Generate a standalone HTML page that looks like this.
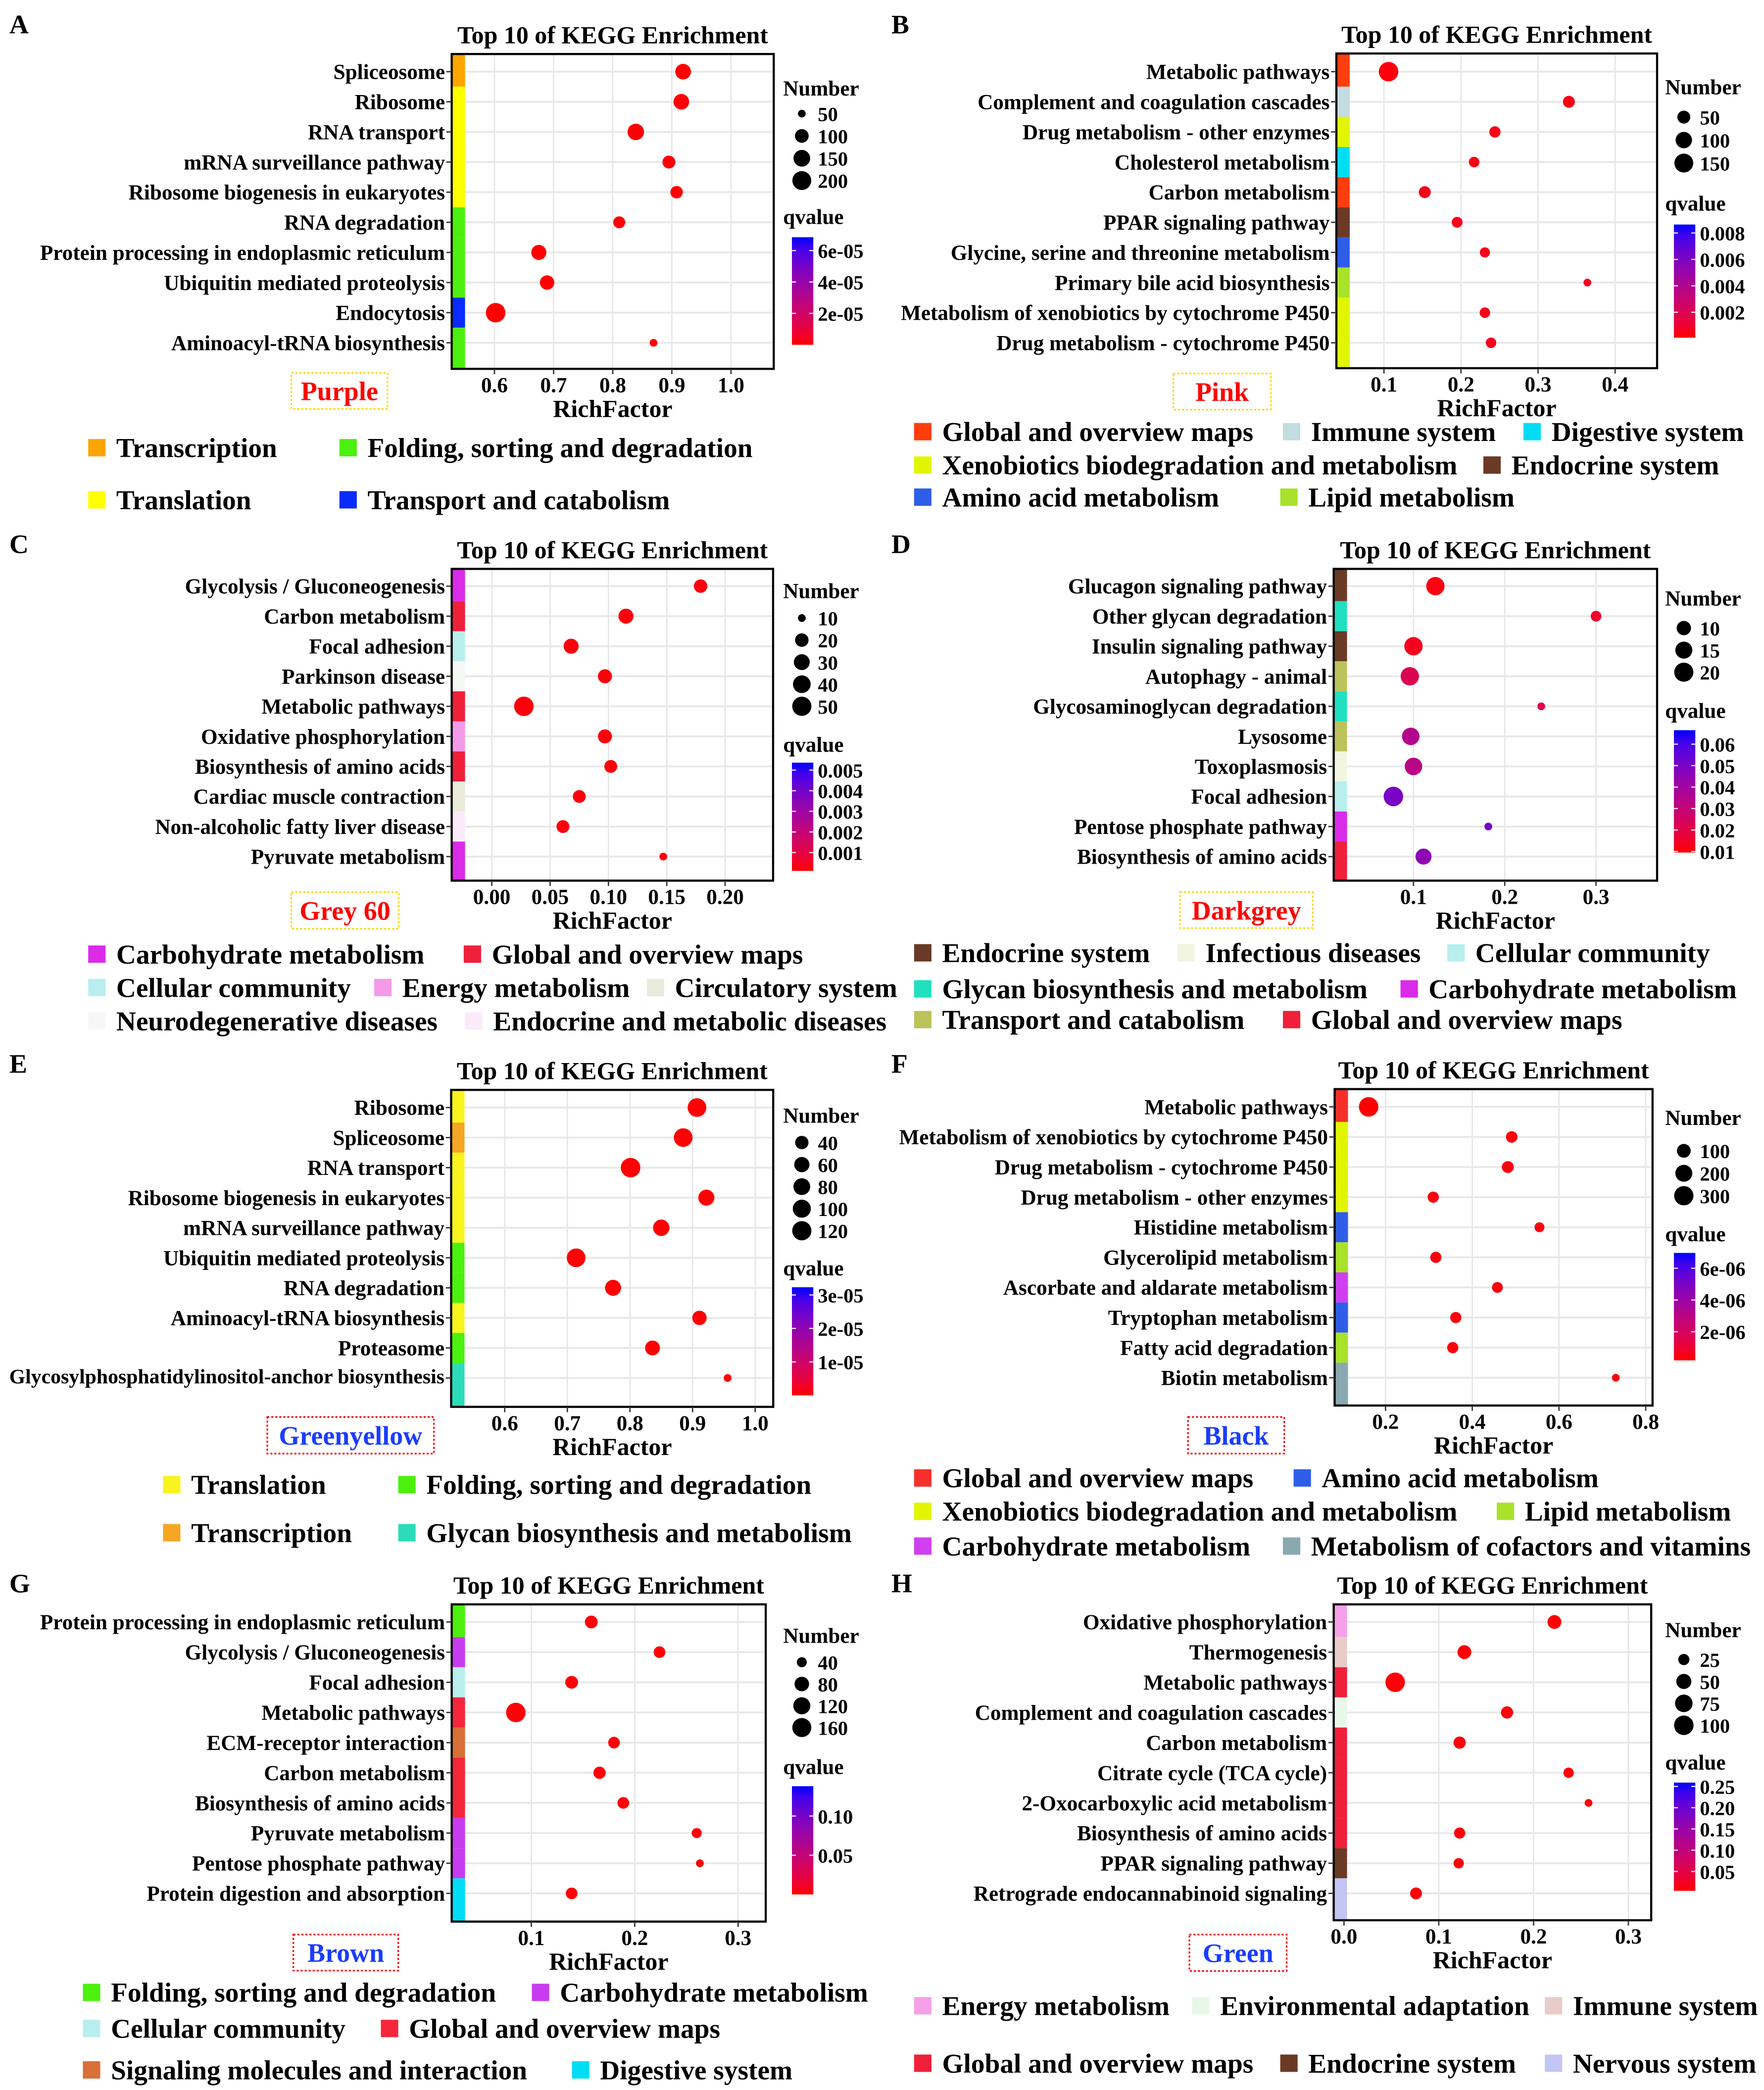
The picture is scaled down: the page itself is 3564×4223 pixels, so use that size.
<!DOCTYPE html>
<html><head><meta charset="utf-8"><style>
html,body{margin:0;padding:0;background:#fff;}
svg{display:block;}
text{font-family:"Liberation Serif",serif;font-weight:bold;fill:#000;}
</style></head><body>
<svg id="fig" xmlns="http://www.w3.org/2000/svg" width="3564" height="4223" viewBox="0 0 1320 1564">
<rect x="0" y="0" width="1320" height="1564" fill="#fff"/>
</svg>
<script>
// ---------- DATA ----------
const aTerms=["Spliceosome","Ribosome","RNA transport","mRNA surveillance pathway","Ribosome biogenesis in eukaryotes","RNA degradation","Protein processing in endoplasmic reticulum","Ubiquitin mediated proteolysis","Endocytosis","Aminoacyl-tRNA biosynthesis"];
const aRich=[0.919,0.916,0.839,0.895,0.908,0.811,0.675,0.689,0.602,0.869];
const aCount=[130,130,145,90,85,80,120,110,215,60];
const aQ=[1e-7,1e-7,1e-7,1e-7,1e-7,1e-7,1e-7,1e-7,1e-7,1e-7];
const aCat=[0,1,1,1,1,2,2,2,3,2];
const aCatNames=["Transcription","Translation","Folding, sorting and degradation","Transport and catabolism"];
const aNumBreaks=[50,100,150,200];
const aXTicks=[0.6,0.7,0.8,0.9,1.0];
const aXLabels=["0.6","0.7","0.8","0.9","1.0"];
const aQTicks=[2e-5,4e-5,6e-5];
const aQLabels=["2e-05","4e-05","6e-05"];

const bTerms=["Metabolic pathways","Complement and coagulation cascades","Drug metabolism - other enzymes","Cholesterol metabolism","Carbon metabolism","PPAR signaling pathway","Glycine, serine and threonine metabolism","Primary bile acid biosynthesis","Metabolism of xenobiotics by cytochrome P450","Drug metabolism - cytochrome P450"];
const bRich=[0.106,0.340,0.244,0.217,0.153,0.195,0.231,0.364,0.231,0.239];
const bCount=[165,40,35,30,40,32,28,22,30,30];
const bQ=[0.0002,0.0003,0.0004,0.0004,0.0004,0.0005,0.0005,0.0006,0.0005,0.0005];
const bCat=[0,1,3,2,0,4,5,6,3,3];
const bCatNames=["Global and overview maps","Immune system","Digestive system","Xenobiotics biodegradation and metabolism","Endocrine system","Amino acid metabolism","Lipid metabolism"];
const bNumBreaks=[50,100,150];
const bXTicks=[0.1,0.2,0.3,0.4];
const bXLabels=["0.1","0.2","0.3","0.4"];
const bQTicks=[0.002,0.004,0.006,0.008];
const bQLabels=["0.002","0.004","0.006","0.008"];

const cTerms=["Glycolysis / Gluconeogenesis","Carbon metabolism","Focal adhesion","Parkinson disease","Metabolic pathways","Oxidative phosphorylation","Biosynthesis of amino acids","Cardiac muscle contraction","Non-alcoholic fatty liver disease","Pyruvate metabolism"];
const cRich=[0.179,0.115,0.068,0.097,0.0275,0.097,0.102,0.075,0.061,0.147];
const cCount=[20,26,26,22,52,22,18,18,18,10];
const cQ=[0.0002,0.0002,0.0002,0.0002,0.0002,0.0002,0.0002,0.0002,0.0002,0.0002];
const cCat=[0,1,2,5,1,3,1,4,6,0];
const cCatNames=["Carbohydrate metabolism","Global and overview maps","Cellular community","Energy metabolism","Circulatory system","Neurodegenerative diseases","Endocrine and metabolic diseases"];
const cNumBreaks=[10,20,30,40,50];
const cXTicks=[0,0.05,0.10,0.15,0.20];
const cXLabels=["0.00","0.05","0.10","0.15","0.20"];
const cQTicks=[0.001,0.002,0.003,0.004,0.005];
const cQLabels=["0.001","0.002","0.003","0.004","0.005"];

const dTerms=["Glucagon signaling pathway","Other glycan degradation","Insulin signaling pathway","Autophagy - animal","Glycosaminoglycan degradation","Lysosome","Toxoplasmosis","Focal adhesion","Pentose phosphate pathway","Biosynthesis of amino acids"];
const dRich=[0.124,0.300,0.100,0.096,0.240,0.097,0.100,0.078,0.182,0.111];
const dCount=[18,6,18,18,5,16,16,21,5,13];
const dQ=[0.011,0.015,0.013,0.022,0.020,0.035,0.033,0.050,0.050,0.045];
const dCat=[0,3,0,5,3,5,1,2,4,6];
const dCatNames=["Endocrine system","Infectious diseases","Cellular community","Glycan biosynthesis and metabolism","Carbohydrate metabolism","Transport and catabolism","Global and overview maps"];
const dNumBreaks=[10,15,20];
const dXTicks=[0.1,0.2,0.3];
const dXLabels=["0.1","0.2","0.3"];
const dQTicks=[0.01,0.02,0.03,0.04,0.05,0.06];
const dQLabels=["0.01","0.02","0.03","0.04","0.05","0.06"];

const eTerms=["Ribosome","Spliceosome","RNA transport","Ribosome biogenesis in eukaryotes","mRNA surveillance pathway","Ubiquitin mediated proteolysis","RNA degradation","Aminoacyl-tRNA biosynthesis","Proteasome","Glycosylphosphatidylinositol-anchor biosynthesis"];
const eRich=[0.907,0.885,0.801,0.922,0.850,0.714,0.773,0.911,0.836,0.956];
const eCount=[110,110,125,70,75,110,70,50,55,15];
const eQ=[1e-7,1e-7,1e-7,1e-7,1e-7,1e-7,1e-7,1e-7,1e-7,1e-7];
const eCat=[0,2,0,0,0,1,1,0,1,3];
const eCatNames=["Translation","Folding, sorting and degradation","Transcription","Glycan biosynthesis and metabolism"];
const eNumBreaks=[40,60,80,100,120];
const eXTicks=[0.6,0.7,0.8,0.9,1.0];
const eXLabels=["0.6","0.7","0.8","0.9","1.0"];
const eQTicks=[1e-5,2e-5,3e-5];
const eQLabels=["1e-05","2e-05","3e-05"];

const fTerms=["Metabolic pathways","Metabolism of xenobiotics by cytochrome P450","Drug metabolism - cytochrome P450","Drug metabolism - other enzymes","Histidine metabolism","Glycerolipid metabolism","Ascorbate and aldarate metabolism","Tryptophan metabolism","Fatty acid degradation","Biotin metabolism"];
const fRich=[0.161,0.491,0.482,0.310,0.555,0.316,0.458,0.362,0.355,0.731];
const fCount=[310,55,60,50,35,50,45,50,50,25];
const fQ=[2e-7,3e-7,3e-7,3e-7,3e-7,3e-7,3e-7,3e-7,3e-7,3e-7];
const fCat=[0,2,2,2,1,3,4,1,3,5];
const fCatNames=["Global and overview maps","Amino acid metabolism","Xenobiotics biodegradation and metabolism","Lipid metabolism","Carbohydrate metabolism","Metabolism of cofactors and vitamins"];
const fNumBreaks=[100,200,300];
const fXTicks=[0.2,0.4,0.6,0.8];
const fXLabels=["0.2","0.4","0.6","0.8"];
const fQTicks=[2e-6,4e-6,6e-6];
const fQLabels=["2e-06","4e-06","6e-06"];

const gTerms=["Protein processing in endoplasmic reticulum","Glycolysis / Gluconeogenesis","Focal adhesion","Metabolic pathways","ECM-receptor interaction","Carbon metabolism","Biosynthesis of amino acids","Pyruvate metabolism","Pentose phosphate pathway","Protein digestion and absorption"];
const gRich=[0.158,0.224,0.139,0.085,0.180,0.166,0.189,0.260,0.263,0.139];
const gCount=[60,50,60,170,50,55,50,40,35,50];
const gQ=[0.001,0.001,0.001,0.001,0.001,0.001,0.001,0.001,0.001,0.001];
const gCat=[0,1,2,3,4,3,3,1,1,5];
const gCatNames=["Folding, sorting and degradation","Carbohydrate metabolism","Cellular community","Global and overview maps","Signaling molecules and interaction","Digestive system"];
const gNumBreaks=[40,80,120,160];
const gXTicks=[0.1,0.2,0.3];
const gXLabels=["0.1","0.2","0.3"];
const gQTicks=[0.05,0.10];
const gQLabels=["0.05","0.10"];

const hTerms=["Oxidative phosphorylation","Thermogenesis","Metabolic pathways","Complement and coagulation cascades","Carbon metabolism","Citrate cycle (TCA cycle)","2-Oxocarboxylic acid metabolism","Biosynthesis of amino acids","PPAR signaling pathway","Retrograde endocannabinoid signaling"];
const hRich=[0.222,0.127,0.054,0.172,0.122,0.237,0.258,0.122,0.121,0.076];
const hCount=[40,40,100,30,30,22,18,25,22,28];
const hQ=[0.006,0.006,0.006,0.006,0.006,0.006,0.006,0.006,0.006,0.006];
const hCat=[0,2,3,1,3,3,3,3,4,5];
const hCatNames=["Energy metabolism","Environmental adaptation","Immune system","Global and overview maps","Endocrine system","Nervous system"];
const hNumBreaks=[25,50,75,100];
const hXTicks=[0,0.1,0.2,0.3];
const hXLabels=["0.0","0.1","0.2","0.3"];
const hQTicks=[0.05,0.10,0.15,0.20,0.25];
const hQLabels=["0.05","0.10","0.15","0.20","0.25"];

// ---------- LAYOUT (positions / styles only) ----------
const panels=[
 {L:"A",ox:0,oy:0,terms:aTerms,rich:aRich,count:aCount,q:aQ,cat:aCat,catNames:aCatNames,nb:aNumBreaks,xt:aXTicks,xl:aXLabels,qt:aQTicks,ql:aQLabels,
  colors:["#FFA500","#FFFF00","#4CF00E","#0A2BFF"],box:[338,40.4,579,276],rows:[53.6,256.5],px:[370,547],
  numT:66,numY:[85,16.7],qT:162,bar:[177.5,258],qd:[0,6.85e-5],lab:[218,279,290,306],labTxt:"Purple",labCol:"#FF0000",labBorder:"#FFD700",
  leg:[[0,66,335],[2,254,335],[1,66,374],[3,254,374]]},
 {L:"B",ox:660,oy:0,terms:bTerms,rich:bRich,count:bCount,q:bQ,cat:bCat,catNames:bCatNames,nb:bNumBreaks,xt:bXTicks,xl:bXLabels,qt:bQTicks,ql:bQLabels,
  colors:["#FF3D0D","#C2DCE0","#00DDF5","#E2F500","#6B3A26","#2E5EE8","#A8E22A"],box:[1000,40,1240,275.5],rows:[53.6,256.5],px:[1035.6,1208.6],
  numT:65,numY:[87.6,17.2],qT:152,bar:[168,252.7],qd:[0.00007,0.00864],lab:[878,279.5,951,306.5],labTxt:"Pink",labCol:"#FF0000",labBorder:"#FFD700",
  leg:[[0,684,323],[1,960,323],[2,1140,323],[3,684,348],[4,1110,348],[5,684,372],[6,958,372]]},
 {L:"C",ox:0,oy:388.9,terms:cTerms,rich:cRich,count:cCount,q:cQ,cat:cCat,catNames:cCatNames,nb:cNumBreaks,xt:cXTicks,xl:cXLabels,qt:cQTicks,ql:cQLabels,
  colors:["#D92BE8","#F0203A","#B8EEEE","#F59AE8","#EBEBDC","#F6F8F6","#FBEBFA"],box:[338,425.7,578.5,659],rows:[438.6,641],px:[368,542.6],
  numT:442,numY:[462.5,16.5],qT:557,bar:[570.7,651.7],qd:[0.000113,0.00536],lab:[218,667.6,298.3,695],labTxt:"Grey 60",labCol:"#FF0000",labBorder:"#FFD700",
  leg:[[0,66,714],[1,347,714],[2,66,739],[3,280,739],[4,484,739],[5,66,764],[6,348,764]]},
 {L:"D",ox:660,oy:388.9,terms:dTerms,rich:dRich,count:dCount,q:dQ,cat:dCat,catNames:dCatNames,nb:dNumBreaks,xt:dXTicks,xl:dXLabels,qt:dQTicks,ql:dQLabels,
  colors:["#6B3A26","#F2F5E0","#B8EEEE","#20E0C0","#D92BE8","#BCC35A","#F0203A"],box:[998,425.7,1240,659],rows:[438.6,641],px:[1057.7,1194.3],
  numT:447.6,numY:[470,16.5],qT:531.6,bar:[546.4,638],qd:[0.0095,0.0665],lab:[883,667.6,982.4,694.5],labTxt:"Darkgrey",labCol:"#FF0000",labBorder:"#FFD700",
  leg:[[0,684,713],[1,881,713],[2,1083,713],[3,684,740],[4,1048,740],[5,684,763],[6,960,763]]},
 {L:"E",ox:0,oy:777.8,terms:eTerms,rich:eRich,count:eCount,q:eQ,cat:eCat,catNames:eCatNames,nb:eNumBreaks,xt:eXTicks,xl:eXLabels,qt:eQTicks,ql:eQLabels,
  colors:["#F8F41E","#4CF00E","#F5A623","#2CDCB8"],box:[337.6,815.6,578.6,1052.8],rows:[828.8,1031.2],px:[377.7,565.1],
  numT:834.6,numY:[855,16.5],qT:949,bar:[963.3,1044.2],qd:[0,3.23e-5],lab:[200,1060.4,324.7,1087.8],labTxt:"Greenyellow",labCol:"#1A3CFF",labBorder:"#FF0000",
  leg:[[0,122,1111],[1,298,1111],[2,122,1147],[3,298,1147]]},
 {L:"F",ox:660,oy:777.8,terms:fTerms,rich:fRich,count:fCount,q:fQ,cat:fCat,catNames:fCatNames,nb:fNumBreaks,xt:fXTicks,xl:fXLabels,qt:fQTicks,ql:fQLabels,
  colors:["#F5302A","#2E5EE8","#E2F500","#A8E22A","#D040F0","#8AA8B0"],box:[998.7,815,1236.6,1051.8],rows:[828.3,1031],px:[1036.8,1231.5],
  numT:836.3,numY:[861.2,16.8],qT:923.4,bar:[937.6,1018],qd:[0.19e-6,6.97e-6],lab:[889,1060.4,961,1087.8],labTxt:"Black",labCol:"#1A3CFF",labBorder:"#FF0000",
  leg:[[0,684,1106],[1,968,1106],[2,684,1131],[3,1120,1131],[4,684,1157],[5,960,1157]]},
 {L:"G",ox:0,oy:1166.7,terms:gTerms,rich:gRich,count:gCount,q:gQ,cat:gCat,catNames:gCatNames,nb:gNumBreaks,xt:gXTicks,xl:gXLabels,qt:gQTicks,ql:gQLabels,
  colors:["#4CF00E","#C83CF0","#B8EEEE","#F5263A","#D87038","#00DDF5"],box:[338,1200.6,573,1438],rows:[1213.8,1416.9],px:[397.6,552.3],
  numT:1224,numY:[1243.9,16.3],qT:1322,bar:[1336.7,1417.7],qd:[0,0.138],lab:[219.5,1447.7,298,1474.7],labTxt:"Brown",labCol:"#1A3CFF",labBorder:"#FF0000",
  leg:[[0,62,1491],[1,398,1491],[2,62,1518],[3,285,1518],[4,62,1549],[5,428,1549]]},
 {L:"H",ox:660,oy:1166.7,terms:hTerms,rich:hRich,count:hCount,q:hQ,cat:hCat,catNames:hCatNames,nb:hNumBreaks,xt:hXTicks,xl:hXLabels,qt:hQTicks,ql:hQLabels,
  colors:["#F5A0E8","#E8F8E8","#E8CCC8","#F0203A","#6B3A26","#C4C4F5"],box:[998,1200.6,1235.6,1437],rows:[1213.8,1416.9],px:[1005.7,1218.5],
  numT:1219.7,numY:[1241.9,16.4],qT:1318.7,bar:[1334,1415],qd:[0.0044,0.259],lab:[890,1447.7,962.8,1475],labTxt:"Green",labCol:"#1A3CFF",labBorder:"#FF0000",
  leg:[[0,684,1501],[1,892,1501],[2,1156,1501],[3,684,1544],[4,958,1544],[5,1156,1544]]}
];

// ---------- RENDER ----------
const NS="http://www.w3.org/2000/svg";
const svg=document.getElementById("fig");
const defs=document.createElementNS(NS,"defs");svg.appendChild(defs);
function mk(tag,parent){const e=document.createElementNS(NS,tag);parent.appendChild(e);return e;}
function at(e,o){for(const k in o)e.setAttribute(k,o[k]);return e;}
function qcol(t){t=Math.max(0,Math.min(1,t));const r=Math.round(255*Math.pow(1-t,0.6));const b=Math.round(255*Math.pow(t,0.75));const g=Math.round(20*t*(1-t));return "rgb("+r+","+g+","+b+")";}

panels.forEach(function(p){
  const id=p.L.toLowerCase();
  const g=mk("g",svg);
  
  
  const [bx0,by0,bx1,by1]=p.box;
  const xs=function(v){const t0=p.xt[0],tN=p.xt[p.xt.length-1];return p.px[0]+(v-t0)/(tN-t0)*(p.px[1]-p.px[0]);};
  const n=p.terms.length;
  const ys=function(i){return p.rows[0]+i*(p.rows[1]-p.rows[0])/(n-1);};
  const cmin=Math.min.apply(null,p.count),cmax=Math.max.apply(null,p.count);
  const rs=function(c){const t=(cmax>cmin)?(c-cmin)/(cmax-cmin):1;return 2.9+4.4*Math.sqrt(Math.max(0,Math.min(1,t)));};
  const qt=function(q){return (q-p.qd[0])/(p.qd[1]-p.qd[0]);};

  const letter=at(mk("text",g),{x:p.ox+7,y:p.oy+25,"font-size":20});
  letter.textContent=p.L;
  
  

  const title=at(mk("text",g),{x:(bx0+bx1)/2,y:by0-8,"font-size":18.5,"text-anchor":"middle"});
  title.textContent="Top 10 of KEGG Enrichment";
  
  

  const plot=mk("g",g);
  
  
  at(mk("rect",plot),{x:bx0,y:by0,width:bx1-bx0,height:by1-by0,fill:"#fff"});
  const step=p.xt[1]-p.xt[0];
  for(let v=p.xt[0]-step*1.5;v<=p.xt[p.xt.length-1]+step*1.5;v+=step){
    const xm=xs(v+step/2);
    if(xm>bx0&&xm<bx1) at(mk("line",plot),{x1:xm,x2:xm,y1:by0,y2:by1,stroke:"#f2f2f2","stroke-width":0.6});
  }
  p.xt.forEach(function(v){const x=xs(v);at(mk("line",plot),{x1:x,x2:x,y1:by0,y2:by1,stroke:"#e6e6e6","stroke-width":1});});
  for(let i=0;i<n;i++){const y=ys(i);at(mk("line",plot),{x1:bx0,x2:bx1,y1:y,y2:y,stroke:"#e8e8e8","stroke-width":1.4});}
  for(let i=0;i<n;i++){
    const top=i===0?by0:(ys(i-1)+ys(i))/2;
    const bot=i===n-1?by1:(ys(i)+ys(i+1))/2;
    const s=at(mk("rect",plot),{x:bx0,y:top,width:10,height:bot-top,fill:p.colors[p.cat[i]]});
    
    
  }
  for(let i=0;i<n;i++){
    const c=at(mk("circle",plot),{cx:xs(p.rich[i]),cy:ys(i),r:rs(p.count[i]),fill:qcol(qt(p.q[i]))});
    
    
  }
  at(mk("rect",plot),{x:bx0,y:by0,width:bx1-bx0,height:by1-by0,fill:"none",stroke:"#000","stroke-width":1.6});
  const avail=bx0-p.ox-12;
  for(let i=0;i<n;i++){
    const y=ys(i);
    at(mk("line",g),{x1:bx0-4,x2:bx0,y1:y,y2:y,stroke:"#333","stroke-width":1});
    const t=at(mk("text",g),{x:bx0-5,y:y+5.5,"font-size":16,"text-anchor":"end"});
    t.textContent=p.terms[i];
    
    
    const w=t.getComputedTextLength();
    if(w>avail){t.setAttribute("font-size",(16*avail/w).toFixed(2));t.setAttribute("y",y+4);}
  }
  p.xt.forEach(function(v,k){
    const x=xs(v);
    at(mk("line",g),{x1:x,x2:x,y1:by1,y2:by1+4,stroke:"#333","stroke-width":1});
    const t=at(mk("text",g),{x:x,y:by1+17.5,"font-size":16,"text-anchor":"middle"});
    t.textContent=p.xl[k];
    
    
  });
  const xt=at(mk("text",g),{x:(bx0+bx1)/2,y:by1+36,"font-size":18.5,"text-anchor":"middle"});
  xt.textContent="RichFactor";
  
  
  const [lx0,ly0,lx1,ly1]=p.lab;
  const lb=at(mk("rect",g),{x:lx0,y:ly0,width:lx1-lx0,height:ly1-ly0,fill:"none",stroke:p.labBorder,"stroke-width":1.2,"stroke-dasharray":"1.5,1.5"});
  
  
  const lt=at(mk("text",g),{x:(lx0+lx1)/2,y:(ly0+ly1)/2+7,"font-size":20,"text-anchor":"middle",style:"fill:"+p.labCol});
  lt.textContent=p.labTxt;
  
  
  const base=p.ox+586;
  const nt=at(mk("text",g),{x:base,y:p.numT+5.5,"font-size":16});
  nt.textContent="Number";
  
  
  p.nb.forEach(function(v,k){
    const y=p.numY[0]+k*p.numY[1];
    const d=at(mk("circle",g),{cx:base+14,cy:y,r:rs(v),fill:"#000"});
    
    
    const t=at(mk("text",g),{x:base+26,y:y+5.5,"font-size":15});
    t.textContent=String(v);
    
    
  });
  const qtT=at(mk("text",g),{x:base,y:p.qT+5.5,"font-size":16});
  qtT.textContent="qvalue";
  
  
  const grad=at(mk("linearGradient",defs),{id:"grad-"+id,x1:0,y1:1,x2:0,y2:0});
  for(let s=0;s<=10;s++){at(mk("stop",grad),{offset:(s/10),"stop-color":qcol(s/10)});}
  const [qy0,qy1]=p.bar;
  const bar=at(mk("rect",g),{x:base+6.6,y:qy0,width:16,height:qy1-qy0,fill:"url(#grad-"+id+")"});
  
  
  p.qt.forEach(function(v,k){
    const y=qy1-qt(v)*(qy1-qy0);
    at(mk("line",g),{x1:base+6.6,x2:base+9.6,y1:y,y2:y,stroke:"#fff","stroke-width":0.8});
    at(mk("line",g),{x1:base+19.6,x2:base+22.6,y1:y,y2:y,stroke:"#fff","stroke-width":0.8});
    const t=at(mk("text",g),{x:base+26,y:y+5.5,"font-size":15});
    t.textContent=p.ql[k];
    
    
  });
  p.leg.forEach(function(it){
    const [ci,sx,sy]=it;
    const sw=at(mk("rect",g),{x:sx,y:sy-6.5,width:13,height:13,fill:p.colors[ci]});
    
    
    const t=at(mk("text",g),{x:sx+21,y:sy+7,"font-size":20.5});
    t.textContent=p.catNames[ci];
    
    
  });
});
</script>
</body></html>
